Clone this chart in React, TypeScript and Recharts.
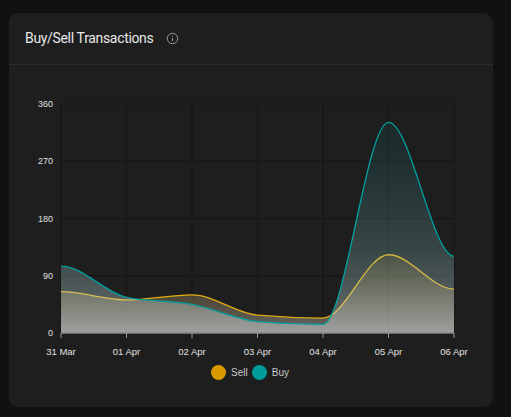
import React from "react";
import { AreaChart, Area, XAxis, YAxis, CartesianGrid, Legend } from "recharts";

const dates = ["31 Mar", "01 Apr", "02 Apr", "03 Apr", "04 Apr", "05 Apr", "06 Apr"];
const sell = [65, 52, 60, 28, 23.5, 123, 69];
const buy = [105, 56, 45, 18, 13.5, 331, 121];
const yTicks = [0, 90, 180, 270, 360];
const rows = dates.map((date, i) => ({ date, Sell: sell[i], Buy: buy[i] }));

const legendColors: Record<string, string> = { Sell: "#d99a00", Buy: "#009c9c" };

const font = "'Liberation Sans', Arial, sans-serif";
const xTickStyle = { fill: "#e0e0e0", fontSize: 9.5, fontFamily: font };
const yTickStyle = { fill: "#e0e0e0", fontSize: 9, fontFamily: font };

// Monotone spline whose two end tangents are flat, as in the reference.
function flatEndMonotone(ctx: any) {
  let xs: number[] = [];
  let ys: number[] = [];
  let inArea = false;
  const sgn = (v: number) => (v < 0 ? -1 : 1);
  const draw = (first: boolean) => {
    const n = xs.length;
    if (!n) return;
    const t: number[] = new Array(n).fill(0);
    for (let i = 1; i < n - 1; i++) {
      const h0 = xs[i] - xs[i - 1];
      const h1 = xs[i + 1] - xs[i];
      const s0 = (ys[i] - ys[i - 1]) / (h0 || 1);
      const s1 = (ys[i + 1] - ys[i]) / (h1 || 1);
      const p = (s0 * h1 + s1 * h0) / (h0 + h1);
      t[i] = (sgn(s0) + sgn(s1)) * Math.min(Math.abs(s0), Math.abs(s1), 0.5 * Math.abs(p)) || 0;
    }
    if (first) ctx.moveTo(xs[0], ys[0]);
    else ctx.lineTo(xs[0], ys[0]);
    for (let i = 0; i < n - 1; i++) {
      const d = (xs[i + 1] - xs[i]) / 3;
      ctx.bezierCurveTo(xs[i] + d, ys[i] + d * t[i], xs[i + 1] - d, ys[i + 1] - d * t[i + 1], xs[i + 1], ys[i + 1]);
    }
  };
  return {
    areaStart() { inArea = true; },
    areaEnd() { inArea = false; ctx.closePath(); },
    lineStart() { xs = []; ys = []; },
    lineEnd() {
      const isTop = !this._drawn || !inArea;
      draw(isTop);
      this._drawn = inArea ? !this._drawn : false;
    },
    _drawn: false,
    point(x: number, y: number) { xs.push(+x); ys.push(+y); },
  } as any;
}

const renderLegend = (props: any) => (
  <div style={{ display: "flex", justifyContent: "center", alignItems: "center", paddingRight: 7, paddingTop: 2, fontFamily: font, fontSize: 10, color: "#c8c8c8" }}>
    {props.payload.map((p: any) => (
      <span key={p.value} style={{ display: "inline-flex", alignItems: "center", marginRight: 4 }}>
        <span style={{ width: 15, height: 15, borderRadius: "50%", background: legendColors[p.value], marginRight: 5, display: "inline-block" }} />
        {p.value}
      </span>
    ))}
  </div>
);

export default function App() {
  return (
    <div style={{ position: "absolute", left: 0, top: 0, width: 511, height: 417, background: "#111111", overflow: "hidden" }}>
      <div style={{ position: "absolute", left: 9, top: 13, width: 484, height: 394, background: "#1e1e1e", borderRadius: 9 }} />
      <div style={{ position: "absolute", left: 9, top: 64, width: 484, height: 1, background: "#2a2a2a" }} />
      <div style={{ position: "absolute", left: 25, top: 29, fontFamily: "Roboto, sans-serif", fontSize: 14, letterSpacing: -0.33, lineHeight: "18px", color: "#e8e8e8", whiteSpace: "nowrap" }}>
        Buy/Sell Transactions
      </div>
      <svg style={{ position: "absolute", left: 166, top: 32 }} width="13" height="13" viewBox="0 0 13 13">
        <circle cx="6.5" cy="6.5" r="5.2" fill="none" stroke="#999" strokeWidth="1" />
        <line x1="6.5" y1="5.8" x2="6.5" y2="9.2" stroke="#999" strokeWidth="1" />
        <circle cx="6.5" cy="4" r="0.6" fill="#999" />
      </svg>
      <div style={{ position: "absolute", left: 0, top: 0 }}>
        <AreaChart width={511} height={417} data={rows} margin={{ top: 104, right: 57, bottom: 24, left: 0 }}>
          <defs>
            <linearGradient id="sellFill" x1="0" y1="0" x2="0" y2="1">
              <stop offset="0%" stopColor="#d99a00" stopOpacity={0.2} />
              <stop offset="100%" stopColor="#ffffff" stopOpacity={0.55} />
            </linearGradient>
            <linearGradient id="buyFill" x1="0" y1="0" x2="0" y2="1">
              <stop offset="0%" stopColor="#009c9c" stopOpacity={0.15} />
              <stop offset="60%" stopColor="#99d7d7" stopOpacity={0.36} />
              <stop offset="100%" stopColor="#ffffff" stopOpacity={0.62} />
            </linearGradient>
          </defs>
          <CartesianGrid stroke="#141414" strokeWidth={1} />
          <XAxis dataKey="date" height={30} interval={0} tick={xTickStyle} tickLine={{ stroke: "#999" }} axisLine={{ stroke: "#888", strokeWidth: 1.5 }} tickSize={5} tickMargin={10} />
          <YAxis width={61} domain={[0, 360]} ticks={yTicks} tick={yTickStyle} axisLine={false} tickLine={false} tickMargin={2} />
          <Area type={flatEndMonotone as any} dataKey="Sell" stroke="#e0ab10" strokeWidth={1.3} fill="url(#sellFill)" isAnimationActive={false} dot={false} activeDot={false} />
          <Area type={flatEndMonotone as any} dataKey="Buy" stroke="#00a0a0" strokeWidth={1.3} fill="url(#buyFill)" isAnimationActive={false} dot={false} activeDot={false} />
          <Legend content={renderLegend} verticalAlign="bottom" height={30} itemSorter={null as any} wrapperStyle={{ left: 0, width: 511 }} />
        </AreaChart>
      </div>
    </div>
  );
}
